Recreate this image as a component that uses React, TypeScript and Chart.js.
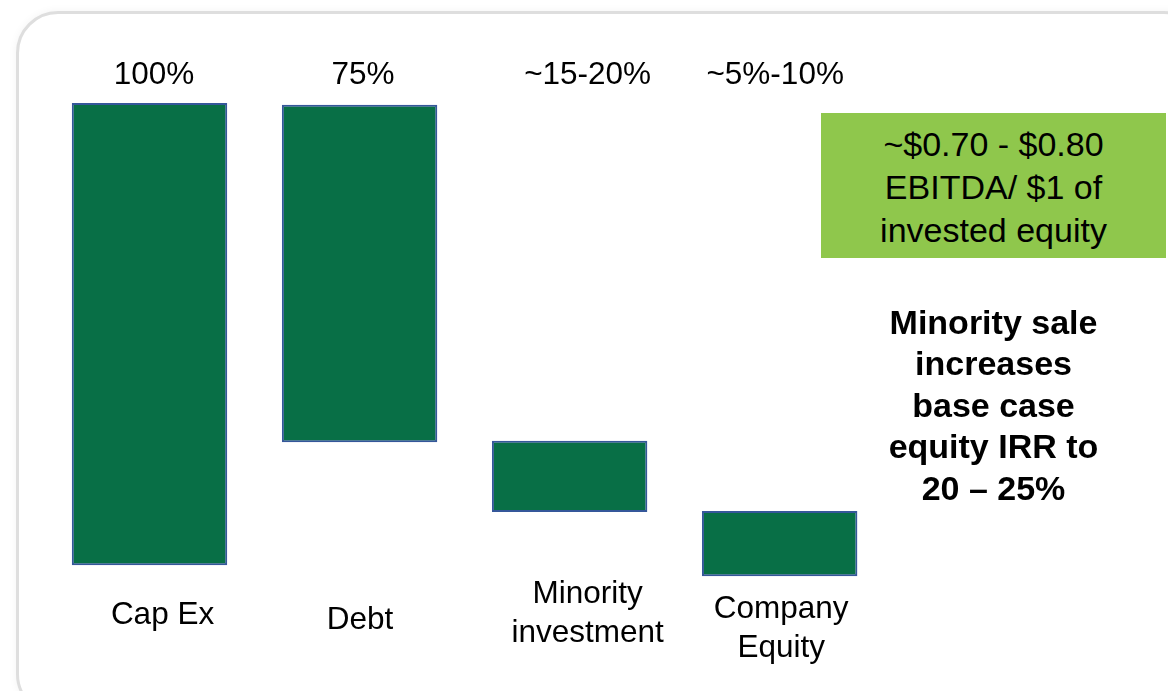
import React, { useEffect, useRef } from "react";
import { Chart, registerables } from "chart.js";

Chart.register(...registerables);

// ---- data ----
const CATEGORIES: string[][] = [["Cap Ex"], ["Debt"], ["Minority", "investment"], ["Company", "Equity"]];
const BAR_LOW: number[] = [0, 26.6, 11.5, -2.4];
const BAR_HIGH: number[] = [100, 99.6, 26.9, 11.7];
const TOP_LABELS: string[] = ["100%", "75%", "~15-20%", "~5%-10%"];
const BOX_LINES: string[] = ["~$0.70 - $0.80", "EBITDA/ $1 of", "invested equity"];
const NOTE_LINES: string[] = ["Minority sale", "increases", "base case", "equity IRR to", "20 \u2013 25%"];

// ---- layout (not data) ----
const FONT = '"Liberation Sans", Arial, Helvetica, sans-serif';
const TOP_BASELINE = 84;
const TOP_DX = [4.5, 3.5, 18, -4.5];
const CAT_DX = [13, 0.5, 18, 1.5];
const CAT_BASELINE_OFFSET = [45, 50, 24, 39]; // from chart-area bottom
const CAT_LINE_HEIGHT = 39;

const labelPlugin = {
  id: "waterfallLabels",
  afterDraw(chart: any) {
    const ctx = chart.ctx;
    const xs = chart.scales.x;
    const area = chart.chartArea;
    ctx.save();
    ctx.fillStyle = "#000";
    ctx.textAlign = "center";
    ctx.textBaseline = "alphabetic";
    ctx.font = `31.5px ${FONT}`;
    TOP_LABELS.forEach((t, i) => {
      ctx.fillText(t, xs.getPixelForValue(i) + TOP_DX[i], TOP_BASELINE);
    });
    CATEGORIES.forEach((lines, i) => {
      const x = xs.getPixelForValue(i) + CAT_DX[i];
      lines.forEach((ln, j) => {
        ctx.fillText(ln, x, area.bottom + CAT_BASELINE_OFFSET[i] + j * CAT_LINE_HEIGHT);
      });
    });
    ctx.restore();
  },
};

export default function App() {
  const canvasRef = useRef<HTMLCanvasElement | null>(null);

  useEffect(() => {
    if (!canvasRef.current) return;
    const chart = new Chart(canvasRef.current, {
      type: "bar",
      data: {
        labels: CATEGORIES.map((c) => c.join(" ")),
        datasets: [
          {
            data: BAR_LOW.map((l, i) => [l, BAR_HIGH[i]]) as any,
            backgroundColor: "#086F46",
            borderColor: "#35579A",
            borderWidth: 2,
            borderSkipped: false,
            categoryPercentage: 1,
            barPercentage: 0.74,
          },
        ],
      },
      options: {
        animation: false,
        responsive: false,
        events: [],
        layout: { padding: { left: 44.5, right: 283.3, top: 103, bottom: 112 } },
        plugins: { legend: { display: false }, tooltip: { enabled: false }, title: { display: false } },
        scales: {
          x: { type: "category", display: false, offset: true },
          y: { type: "linear", display: false, min: -3, max: 100 },
        },
      },
      plugins: [labelPlugin],
    });
    return () => chart.destroy();
  }, []);

  return (
    <div
      style={{
        position: "fixed",
        left: 0,
        top: 0,
        width: 1168,
        height: 691,
        overflow: "hidden",
        background: "#fff",
        fontFamily: FONT,
      }}
    >
      <div
        style={{
          position: "absolute",
          left: 16,
          top: 11,
          width: 1190,
          height: 705,
          border: "3px solid #dedede",
          borderRadius: 42,
          boxSizing: "border-box",
          background: "#fff",
          boxShadow: "0 0 8px rgba(0,0,0,0.05)",
        }}
      />
      <canvas
        ref={canvasRef}
        width={1168}
        height={691}
        style={{ position: "absolute", left: 0, top: 0, width: 1168, height: 691 }}
      />
      <div
        style={{
          position: "absolute",
          left: 821,
          top: 113,
          width: 345,
          height: 145,
          background: "#8FC74C",
          display: "flex",
          flexDirection: "column",
          justifyContent: "center",
          alignItems: "center",
          fontSize: 34,
          lineHeight: "43px",
          color: "#000",
          textAlign: "center",
        }}
      >
        <div style={{ position: "relative", top: 2 }}>
          {BOX_LINES.map((l, i) => (
            <div key={i} style={{ whiteSpace: "nowrap" }}>{l}</div>
          ))}
        </div>
      </div>
      <div
        style={{
          position: "absolute",
          left: 821,
          top: 301.5,
          width: 345,
          fontSize: 34,
          fontWeight: "bold",
          lineHeight: "41.6px",
          color: "#000",
          textAlign: "center",
        }}
      >
        {NOTE_LINES.map((l, i) => (
          <div key={i} style={{ whiteSpace: "nowrap" }}>{l}</div>
        ))}
      </div>
    </div>
  );
}
